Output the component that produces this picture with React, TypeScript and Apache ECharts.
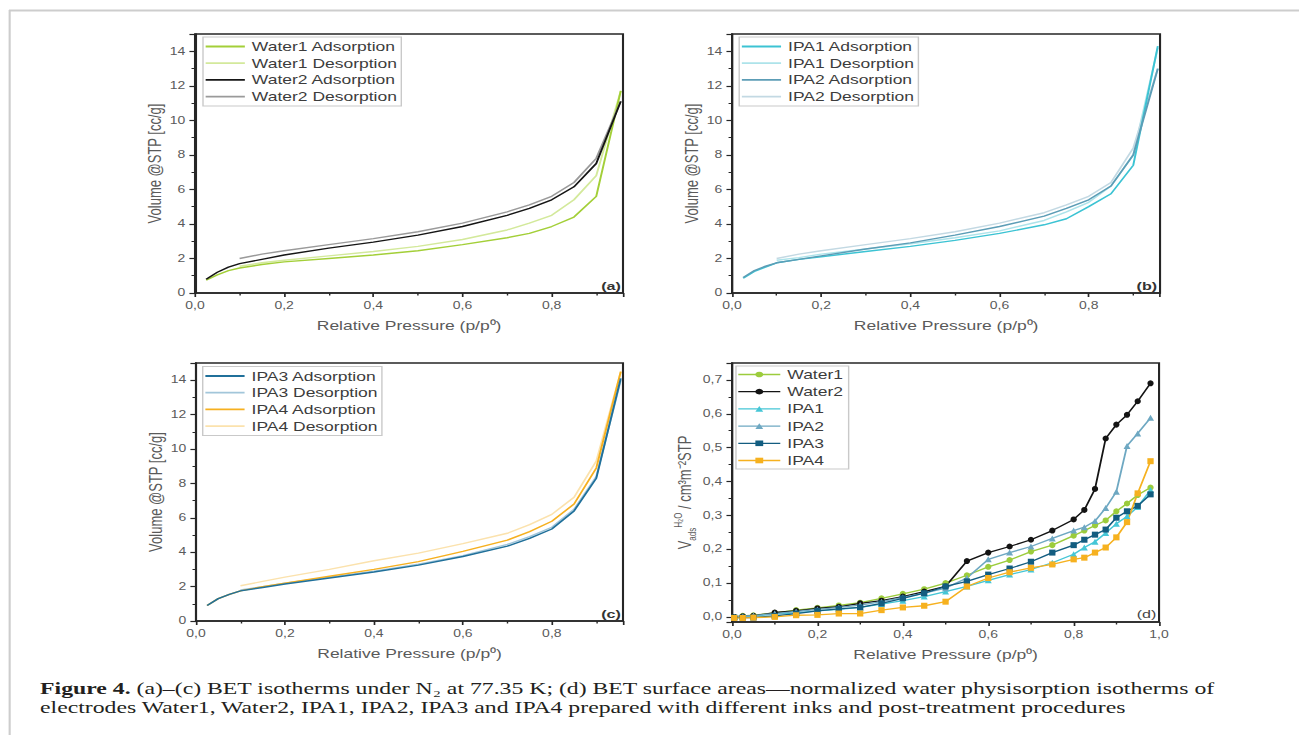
import React, { useEffect, useRef } from "react";
import * as echarts from "echarts";

// horizontal stretch of the reference figure
const S = 1.4;
const W = 1299 / S;
const H = 735;

// ---------- panels (a)-(c): N2 isotherms ----------
const adsX = [0.025, 0.05, 0.075, 0.1, 0.15, 0.2, 0.3, 0.4, 0.5, 0.6, 0.7, 0.75, 0.8, 0.85, 0.9, 0.955];
const desX = [0.955, 0.9, 0.85, 0.8, 0.75, 0.7, 0.6, 0.5, 0.4, 0.3, 0.2, 0.15, 0.1];

const water1Ads = [0.75, 1.05, 1.3, 1.45, 1.65, 1.8, 2.0, 2.2, 2.45, 2.8, 3.2, 3.45, 3.85, 4.4, 5.6, 11.7];
const water1Des = [11.7, 6.8, 5.4, 4.5, 4.05, 3.65, 3.1, 2.7, 2.4, 2.15, 1.9, 1.75, 1.55];
const water2Ads = [0.8, 1.2, 1.5, 1.7, 1.95, 2.2, 2.6, 2.95, 3.35, 3.85, 4.5, 4.9, 5.4, 6.15, 7.5, 11.1];
const water2Des = [11.1, 7.8, 6.4, 5.6, 5.1, 4.7, 4.05, 3.55, 3.15, 2.8, 2.45, 2.25, 2.0];

const ipa1Ads = [0.85, 1.25, 1.5, 1.75, 1.95, 2.1, 2.4, 2.7, 3.05, 3.45, 3.95, 4.3, 5.0, 5.75, 7.4, 14.3];
const ipa1Des = [14.2, 8.0, 6.2, 5.25, 4.7, 4.2, 3.6, 3.2, 2.85, 2.55, 2.25, 2.05, 1.9];
const ipa2Ads = [0.9, 1.3, 1.55, 1.75, 1.95, 2.15, 2.55, 2.9, 3.35, 3.85, 4.45, 4.9, 5.4, 6.2, 8.0, 13.0];
const ipa2Des = [13.0, 8.4, 6.4, 5.6, 5.1, 4.65, 4.05, 3.55, 3.15, 2.8, 2.45, 2.25, 2.0];

const ipa3Ads = [0.9, 1.3, 1.55, 1.75, 1.95, 2.15, 2.5, 2.85, 3.25, 3.75, 4.35, 4.8, 5.35, 6.4, 8.3, 14.1];
const ipa3Des = [14.0, 8.4, 6.5, 5.45, 4.9, 4.45, 3.8, 3.3, 2.9, 2.55, 2.2, 2.0, 1.8];
const ipa4Ads = [0.9, 1.3, 1.55, 1.75, 2.0, 2.2, 2.6, 3.0, 3.45, 4.05, 4.7, 5.2, 5.8, 6.8, 8.9, 14.5];
const ipa4Des = [14.5, 9.3, 7.2, 6.2, 5.6, 5.1, 4.5, 3.95, 3.5, 3.0, 2.55, 2.3, 2.05];

// ---------- panel (d): water physisorption ----------
const waterX = [0.005, 0.025, 0.05, 0.1, 0.15, 0.2, 0.25, 0.3, 0.35, 0.4, 0.45, 0.5, 0.55, 0.6, 0.65, 0.7, 0.75, 0.8, 0.825, 0.85, 0.875, 0.9, 0.925, 0.95, 0.98];
const dWater1 = [0.0, 0.003, 0.005, 0.012, 0.02, 0.027, 0.034, 0.042, 0.055, 0.068, 0.082, 0.1, 0.123, 0.148, 0.168, 0.193, 0.212, 0.24, 0.255, 0.27, 0.285, 0.312, 0.335, 0.36, 0.382];
const dWater2 = [0.0, 0.002, 0.003, 0.013, 0.018, 0.025, 0.03, 0.04, 0.048, 0.06, 0.075, 0.09, 0.165, 0.19, 0.208, 0.228, 0.255, 0.288, 0.316, 0.378, 0.527, 0.568, 0.597, 0.637, 0.69];
const dIPA1 = [0.0, 0.0, 0.002, 0.008, 0.012, 0.018, 0.022, 0.028, 0.038, 0.048, 0.06, 0.075, 0.09, 0.108, 0.125, 0.14, 0.16, 0.185, 0.205, 0.222, 0.248, 0.275, 0.297, 0.325, 0.375];
const dIPA2 = [0.0, 0.002, 0.004, 0.01, 0.016, 0.022, 0.028, 0.035, 0.045, 0.058, 0.07, 0.085, 0.115, 0.17, 0.19, 0.208, 0.232, 0.255, 0.265, 0.283, 0.322, 0.37, 0.505, 0.542, 0.588];
const dIPA3 = [-0.002, -0.002, -0.002, 0.003, 0.01, 0.018, 0.024, 0.028, 0.04, 0.055, 0.07, 0.09, 0.105, 0.125, 0.143, 0.163, 0.19, 0.212, 0.228, 0.243, 0.258, 0.293, 0.312, 0.328, 0.362];
const dIPA4 = [-0.003, -0.003, -0.002, 0.0, 0.005, 0.006, 0.01, 0.01, 0.02, 0.028, 0.033, 0.045, 0.09, 0.115, 0.132, 0.145, 0.155, 0.17, 0.175, 0.19, 0.205, 0.235, 0.28, 0.365, 0.46];

const zip = (xs: number[], ys: number[]) => xs.map((x, i) => [x, ys[i]]);

const FONT = "'Liberation Sans', Arial, sans-serif";
const SERIF = "'Liberation Serif', 'Times New Roman', serif";
const AX = "#262626";
const LBL = "#5a5a5a";

const comma1 = (v: number) => v.toFixed(1).replace(".", ",");

function isoSeries(name: string, xs: number[], ys: number[], color: string, idx: number) {
  return {
    name,
    type: "line",
    xAxisIndex: idx,
    yAxisIndex: idx,
    data: zip(xs, ys),
    symbol: "none",
    lineStyle: { color, width: 1.4 },
    itemStyle: { color },
    z: 3,
  };
}

function ptSeries(name: string, ys: number[], color: string, symbol: string) {
  return {
    name,
    type: "line",
    xAxisIndex: 3,
    yAxisIndex: 3,
    data: zip(waterX, ys),
    symbol,
    symbolSize: symbol === "triangle" ? [5, 6] : [4.5, 6],
    showSymbol: true,
    clip: false,
    lineStyle: { color, width: 1.3 },
    itemStyle: { color },
    z: 3,
  };
}

function xAxisIso(gridIndex: number) {
  return {
    type: "value",
    gridIndex,
    min: 0,
    max: 0.96,
    interval: 0.2,
    axisLine: { show: true, onZero: false, lineStyle: { color: AX, width: 1.5 } },
    axisTick: { show: true, inside: false, length: 4, lineStyle: { color: AX, width: 1.2 } },
    minorTick: { show: true, splitNumber: 2, length: 2.5, lineStyle: { color: AX, width: 1 } },
    splitLine: { show: false },
    axisLabel: { fontSize: 10, color: LBL, margin: 8, showMaxLabel: false, formatter: (v: number) => comma1(v), fontFamily: FONT },
    name: "Relative Pressure (p/p⁰)",
    nameLocation: "middle",
    nameGap: 26,
    nameTextStyle: { fontSize: 12.5, color: LBL, fontFamily: FONT },
  };
}

function yAxisIso(gridIndex: number) {
  return {
    type: "value",
    gridIndex,
    min: 0,
    max: 15,
    interval: 2,
    axisLine: { show: true, onZero: false, lineStyle: { color: AX, width: 1.5 } },
    axisTick: { show: true, inside: false, length: 4, lineStyle: { color: AX, width: 1.2 } },
    minorTick: { show: true, splitNumber: 2, length: 2.5, lineStyle: { color: AX, width: 1 } },
    splitLine: { show: false },
    axisLabel: { fontSize: 10, color: LBL, margin: 7, showMaxLabel: false, fontFamily: FONT },
    name: "Volume @STP [cc/g]",
    nameLocation: "middle",
    nameGap: 22,
    nameTextStyle: { fontSize: 13, color: LBL, fontFamily: FONT },
  };
}

function legendCfg(names: string[], left: number, top: number, itemWidth: number, hideSymbol: boolean) {
  const cfg: any = {
    data: names,
    orient: "vertical",
    left,
    top,
    itemWidth,
    itemHeight: 12,
    itemGap: 3.7,
    padding: [3, 3, 3, 1],
    borderColor: "#c9c9c9",
    borderWidth: 1,
    selectedMode: false,
    lineStyle: { width: 1.8 },
    textStyle: { fontSize: 12.5, color: "#3c3c3c", fontFamily: FONT },
  };
  if (hideSymbol) cfg.itemStyle = { opacity: 0 };
  return cfg;
}

export default function App() {
  const ref = useRef<HTMLDivElement>(null);

  useEffect(() => {
    if (!ref.current) return;
    const chart = echarts.init(ref.current, undefined, { renderer: "svg" });

    const grids = [
      { left: 139.3, top: 34, width: 305.7, height: 259 },
      { left: 522.9, top: 34, width: 305.7, height: 259 },
      { left: 140, top: 363, width: 305, height: 258 },
      { left: 522.9, top: 363, width: 305, height: 259 },
    ].map((g) => ({ ...g, show: true, borderColor: AX, borderWidth: 1.5, backgroundColor: "transparent", containLabel: false }));

    const c = {
      w1a: "#a3cf38", w1d: "#d3e99b", w2a: "#161616", w2d: "#9a9a9a",
      i1a: "#3cc3d3", i1d: "#ade3ea", i2a: "#5c9db6", i2d: "#c3d9e3",
      i3a: "#20709a", i3d: "#a2c6da", i4a: "#f6b020", i4d: "#fbe2ad",
    };

    const option: any = {
      animation: false,
      textStyle: { fontFamily: FONT },
      grid: grids,
      xAxis: [
        xAxisIso(0),
        xAxisIso(1),
        xAxisIso(2),
        {
          ...xAxisIso(3),
          max: 1,
          axisLabel: { fontSize: 10, color: LBL, margin: 8, formatter: (v: number) => comma1(v), fontFamily: FONT },
        },
      ],
      yAxis: [
        yAxisIso(0),
        yAxisIso(1),
        yAxisIso(2),
        {
          ...yAxisIso(3),
          min: -0.015,
          max: 0.75,
          interval: undefined,
          splitNumber: 7,
          minInterval: 0.1,
          maxInterval: 0.1,
          axisLabel: { fontSize: 10, color: LBL, margin: 7, showMinLabel: false, showMaxLabel: false, formatter: (v: number) => comma1(v), fontFamily: FONT },
          name: "{v|V}{sub|ads}{sup|H₂O}{n| / cm³m⁻²STP}",
          nameGap: 24,
          nameTextStyle: {
            fontSize: 13,
            color: LBL,
            fontFamily: FONT,
            rich: {
              v: { fontSize: 13, color: LBL, fontFamily: FONT, lineHeight: 18 },
              sub: { fontSize: 8, color: LBL, fontFamily: FONT, verticalAlign: "bottom", lineHeight: 18 },
              sup: { fontSize: 8, color: LBL, fontFamily: FONT, verticalAlign: "top", lineHeight: 18 },
              n: { fontSize: 13, color: LBL, fontFamily: FONT, lineHeight: 18 },
            },
          },
        },
      ],
      legend: [
        legendCfg(["Water1 Adsorption", "Water1 Desorption", "Water2 Adsorption", "Water2 Desorption"], 145, 37, 28, true),
        legendCfg(["IPA1 Adsorption", "IPA1 Desorption", "IPA2 Adsorption", "IPA2 Desorption"], 528, 37, 28, true),
        legendCfg(["IPA3 Adsorption", "IPA3 Desorption", "IPA4 Adsorption", "IPA4 Desorption"], 144.8, 366.5, 28, true),
        {
          ...legendCfg(["Water1", "Water2", "IPA1", "IPA2", "IPA3", "IPA4"], 525.7, 366, 30, false),
          itemHeight: 7,
          itemGap: 4.2,
          padding: [2, 4, 2, 1],
          lineStyle: { width: 1.3 },
        },
      ],
      series: [
        isoSeries("Water1 Desorption", desX, water1Des, c.w1d, 0),
        isoSeries("Water1 Adsorption", adsX, water1Ads, c.w1a, 0),
        isoSeries("Water2 Desorption", desX, water2Des, c.w2d, 0),
        isoSeries("Water2 Adsorption", adsX, water2Ads, c.w2a, 0),

        isoSeries("IPA1 Desorption", desX, ipa1Des, c.i1d, 1),
        isoSeries("IPA2 Desorption", desX, ipa2Des, c.i2d, 1),
        isoSeries("IPA1 Adsorption", adsX, ipa1Ads, c.i1a, 1),
        isoSeries("IPA2 Adsorption", adsX, ipa2Ads, c.i2a, 1),

        isoSeries("IPA3 Desorption", desX, ipa3Des, c.i3d, 2),
        isoSeries("IPA4 Desorption", desX, ipa4Des, c.i4d, 2),
        isoSeries("IPA4 Adsorption", adsX, ipa4Ads, c.i4a, 2),
        isoSeries("IPA3 Adsorption", adsX, ipa3Ads, c.i3a, 2),

        ptSeries("Water1", dWater1, "#9ccc3c", "circle"),
        ptSeries("Water2", dWater2, "#141414", "circle"),
        ptSeries("IPA1", dIPA1, "#45c6d6", "triangle"),
        ptSeries("IPA2", dIPA2, "#6ea8c2", "triangle"),
        ptSeries("IPA3", dIPA3, "#135d80", "rect"),
        ptSeries("IPA4", dIPA4, "#f6b11f", "rect"),
      ],
      graphic: [
        // page frame
        { type: "line", shape: { x1: 6.4, y1: 10.5, x2: W, y2: 10.5 }, style: { stroke: "#cdcdcd", lineWidth: 2 }, silent: true },
        { type: "line", shape: { x1: 6.9, y1: 10, x2: 6.9, y2: H }, style: { stroke: "#cdcdcd", lineWidth: 1.5 }, silent: true },
        // panel labels
        { type: "text", x: 443.5, y: 286, style: { text: "(a)", font: `bold 11.5px ${FONT}`, fill: "#333", align: "right", verticalAlign: "middle" } },
        { type: "text", x: 826.5, y: 286, style: { text: "(b)", font: `bold 11.5px ${FONT}`, fill: "#333", align: "right", verticalAlign: "middle" } },
        { type: "text", x: 443.5, y: 614, style: { text: "(c)", font: `bold 11.5px ${FONT}`, fill: "#333", align: "right", verticalAlign: "middle" } },
        { type: "text", x: 826, y: 614, style: { text: "(d)", font: `11.5px ${FONT}`, fill: "#444", align: "right", verticalAlign: "middle" } },
        // caption
        {
          type: "text",
          x: 28.6,
          y: 688.5,
          scaleX: 1.06,
          style: {
            text: "{b|Figure 4.} (a)–(c) BET isotherms under N₂ at 77.35 K; (d) BET surface areas—normalized water physisorption isotherms of",
            font: `16px ${SERIF}`,
            fill: "#231f20",
            verticalAlign: "middle",
            rich: { b: { fontWeight: "bold", fontSize: 16, fontFamily: SERIF, fill: "#231f20" } },
          },
        },
        {
          type: "text",
          x: 28.6,
          y: 707,
          scaleX: 1.06,
          style: {
            text: "electrodes Water1, Water2, IPA1, IPA2, IPA3 and IPA4 prepared with different inks and post-treatment procedures",
            font: `16px ${SERIF}`,
            fill: "#231f20",
            verticalAlign: "middle",
          },
        },
      ],
    };

    chart.setOption(option);
    return () => chart.dispose();
  }, []);

  return (
    <div style={{ position: "fixed", left: 0, top: 0, width: 1299, height: H, overflow: "hidden", background: "#fff" }}>
      <div
        ref={ref}
        style={{ width: W, height: H, transform: `scaleX(${S})`, transformOrigin: "0 0" }}
      />
    </div>
  );
}
